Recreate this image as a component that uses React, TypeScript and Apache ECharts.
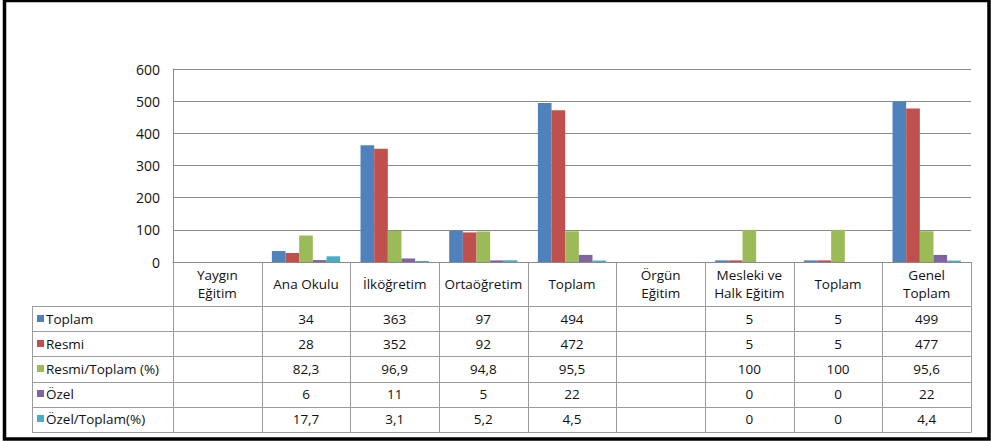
import React, { useEffect, useRef } from "react";
import * as echarts from "echarts";

const categories = [
  "Yaygın\nEğitim",
  "Ana Okulu",
  "İlköğretim",
  "Ortaöğretim",
  "Toplam",
  "Örgün\nEğitim",
  "Mesleki ve\nHalk Eğitim",
  "Toplam",
  "Genel\nToplam",
];
const seriesNames = ["Toplam", "Resmi", "Resmi/Toplam (%)", "Özel", "Özel/Toplam(%)"];
const toplam = [null, 34, 363, 97, 494, null, 5, 5, 499];
const resmi = [null, 28, 352, 92, 472, null, 5, 5, 477];
const resmiPct = [null, 82.3, 96.9, 94.8, 95.5, null, 100, 100, 95.6];
const ozel = [null, 6, 11, 5, 22, null, 0, 0, 22];
const ozelPct = [null, 17.7, 3.1, 5.2, 4.5, null, 0, 0, 4.4];
const yTicks = [0, 100, 200, 300, 400, 500, 600];

const seriesData = [toplam, resmi, resmiPct, ozel, ozelPct];
const colors = ["#4F81BD", "#C0504D", "#9BBB59", "#8064A2", "#4BACC6"];

const FONT = "'Open Sans', 'DejaVu Sans', sans-serif";
const TEXT = "#111";
const TABLE_LINE = "#9c9c9c";
const GRID_LINE = "#8a8a8a";
const FS = 13.5;

const fmt = (v: number | null) => (v === null || v === undefined ? "" : String(v).replace(".", ","));

export default function App() {
  const ref = useRef<HTMLDivElement>(null);
  useEffect(() => {
    if (!ref.current) return;
    const chart = echarts.init(ref.current, null, { renderer: "svg" });
    chart.setOption({
      animation: false,
      grid: { left: 173, right: 20, top: 69, bottom: 179, containLabel: false },
      xAxis: {
        type: "category",
        data: categories.map((_, i) => String(i)),
        axisLine: { show: true, lineStyle: { color: GRID_LINE, width: 1 } },
        axisTick: { show: false },
        axisLabel: { show: false },
        splitLine: { show: false },
      },
      yAxis: {
        type: "value",
        min: yTicks[0],
        max: yTicks[yTicks.length - 1],
        interval: yTicks[1] - yTicks[0],
        axisLine: { show: true, lineStyle: { color: GRID_LINE, width: 1 } },
        axisTick: { show: false },
        axisLabel: { fontFamily: FONT, fontSize: 14, color: TEXT, margin: 13 },
        splitLine: { show: true, lineStyle: { color: GRID_LINE, width: 1 } },
      },
      series: seriesNames.map((name, i) => ({
        name,
        type: "bar",
        data: seriesData[i],
        barGap: "0%",
        barCategoryGap: "23%",
        itemStyle: { color: colors[i] },
      })),
    });

    const x0 = chart.convertToPixel({ xAxisIndex: 0 }, 0) as number;
    const x1 = chart.convertToPixel({ xAxisIndex: 0 }, 1) as number;
    const colW = x1 - x0;
    const leftEdge = x0 - colW / 2;
    const rightEdge = leftEdge + colW * categories.length;
    const tableTop = chart.convertToPixel({ yAxisIndex: 0 }, 0) as number;
    const headerH = 44;
    const rowH = 25.2;
    const labelLeft = 32;
    const rowsTop = tableTop + headerH;
    const tableBottom = rowsTop + rowH * seriesNames.length;

    const els: any[] = [];
    els.push({
      type: "rect",
      shape: { x: 4.5, y: 0.5, width: 984.5, height: 438.5 },
      style: { fill: "none", stroke: "#000", lineWidth: 3.5 },
      silent: true,
    });
    for (let i = 0; i <= categories.length; i++) {
      const x = Math.round(leftEdge + colW * i) + 0.5;
      els.push({
        type: "line",
        shape: { x1: x, y1: tableTop, x2: x, y2: tableBottom },
        style: { stroke: TABLE_LINE, lineWidth: 1 },
        silent: true,
      });
    }
    els.push({
      type: "line",
      shape: { x1: labelLeft + 0.5, y1: rowsTop, x2: labelLeft + 0.5, y2: tableBottom },
      style: { stroke: TABLE_LINE, lineWidth: 1 },
      silent: true,
    });
    for (let r = 0; r <= seriesNames.length; r++) {
      const y = Math.round(rowsTop + rowH * r) + 0.5;
      els.push({
        type: "line",
        shape: { x1: labelLeft, y1: y, x2: rightEdge + 0.5, y2: y },
        style: { stroke: TABLE_LINE, lineWidth: 1 },
        silent: true,
      });
    }
    categories.forEach((c, i) => {
      els.push({
        type: "text",
        x: x0 + colW * i,
        y: tableTop + headerH / 2,
        style: {
          text: c,
          fontFamily: FONT,
          fontSize: FS,
          fill: TEXT,
          align: "center",
          verticalAlign: "middle",
          lineHeight: 18,
        },
        silent: true,
      });
    });
    seriesNames.forEach((name, r) => {
      const cy = rowsTop + rowH * r + rowH / 2;
      els.push({
        type: "rect",
        shape: { x: 37, y: Math.round(cy) - 4, width: 7, height: 7 },
        style: { fill: colors[r] },
        silent: true,
      });
      els.push({
        type: "text",
        x: 46,
        y: cy,
        style: {
          text: name,
          fontFamily: FONT,
          fontSize: FS,
          fill: TEXT,
          align: "left",
          verticalAlign: "middle",
        },
        silent: true,
      });
      seriesData[r].forEach((v, i) => {
        const t = fmt(v as number | null);
        if (!t) return;
        els.push({
          type: "text",
          x: x0 + colW * i,
          y: cy,
          style: {
            text: t,
            fontFamily: FONT,
            fontSize: FS,
            fill: TEXT,
            align: "center",
            verticalAlign: "middle",
          },
          silent: true,
        });
      });
    });

    chart.setOption({ graphic: { elements: els } });

    return () => chart.dispose();
  }, []);

  return (
    <div
      ref={ref}
      style={{ position: "fixed", left: 0, top: 0, width: 991, height: 441, background: "#fff" }}
    />
  );
}
